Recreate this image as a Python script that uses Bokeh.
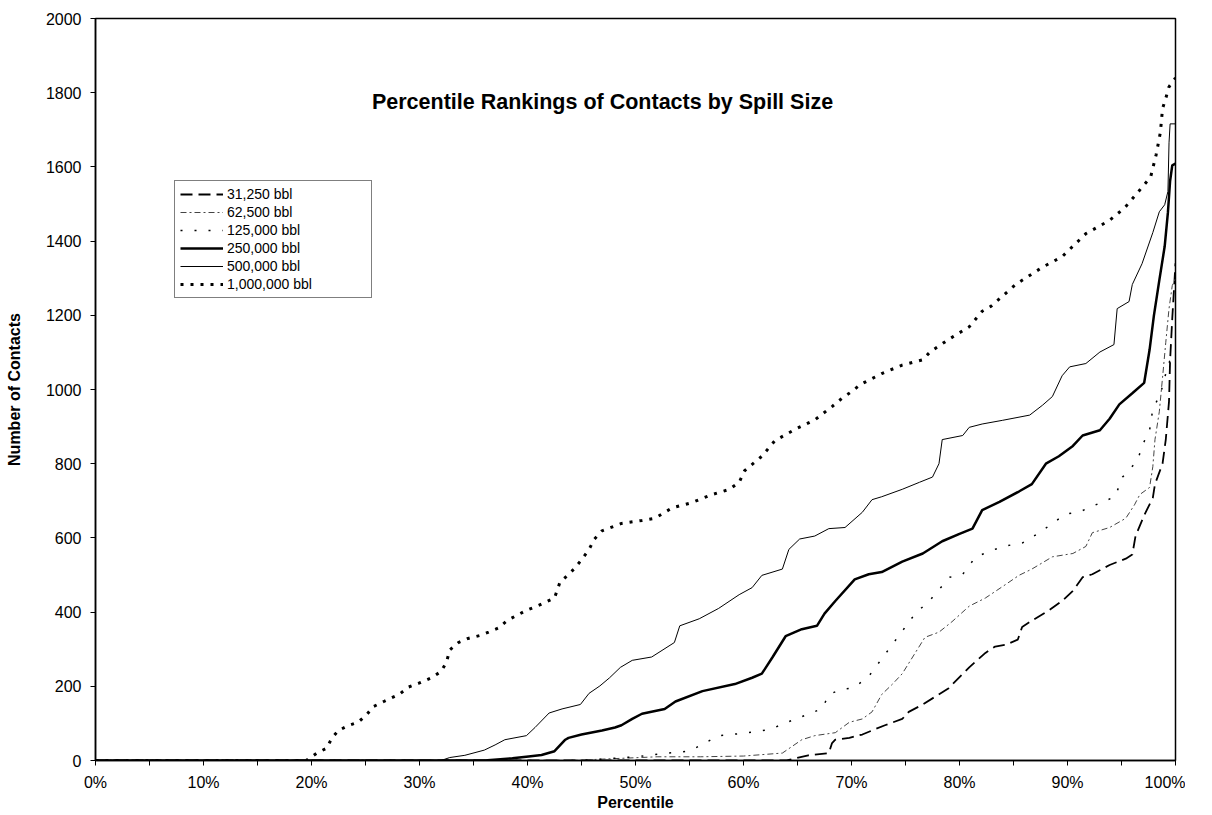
from bokeh.plotting import figure
from bokeh.models import FixedTicker, Legend, LegendItem, Label, Range1d
from bokeh.embed import file_html
from bokeh.resources import INLINE

# ---------------- data ----------------
series_names = ["31,250 bbl", "62,500 bbl", "125,000 bbl", "250,000 bbl", "500,000 bbl", "1,000,000 bbl"]

pct_31k = [0, 60, 64, 66, 67.9, 68.2, 68.5, 69.8, 71, 71.9, 73.1, 74.7, 75.3, 76.6, 77.8, 79, 80.9, 82.4,
           83.3, 84.3, 85.4, 85.8, 86.7, 88.3, 89.5, 90.5, 91.4, 92.3, 93.9, 95.4, 96, 96.3, 97.1, 97.9,
           98.1, 98.8, 99.1, 99.4, 99.5, 99.7, 100]
val_31k = [0, 0, 0, 14, 20, 47, 56, 61, 70, 81, 95, 112, 131, 151, 173, 195, 251, 290,
           307, 312, 326, 360, 377, 405, 430, 457, 494, 502, 527, 544, 555, 605, 661, 708,
           745, 800, 865, 968, 1079, 1191, 1340]

pct_62k = [0, 44, 48, 52, 56, 60, 63.6, 65.4, 66.6, 68.5, 69.8, 71, 71.9, 72.8, 73.8, 74.7, 75.9, 76.8,
           78.1, 79.3, 80.9, 82.4, 84.3, 85.5, 86.7, 88.6, 90.5, 91.7, 92.3, 93.9, 95.4, 96.2, 96.7,
           97.6, 97.9, 98.1, 98.5, 98.8, 99.1, 99.4, 99.7, 100]
val_62k = [0, 0, 5, 10, 10, 12, 20, 56, 67, 75, 103, 112, 131, 178, 206, 234, 290, 332,
           346, 374, 416, 438, 475, 499, 516, 549, 558, 577, 614, 628, 653, 689, 717,
           736, 792, 865, 940, 1032, 1127, 1218, 1280, 1300]

pct_125k = [0, 45, 50, 53, 55, 57.7, 59.9, 62.5, 63.6, 66.1, 67.3, 67.9, 69.1, 70.1, 71.5, 75.9, 77.2,
            79.1, 80.3, 81.5, 84, 85.8, 87.4, 88.6, 89.8, 91.1, 92.6, 94.4, 95.1, 96.5, 96.9, 97.6,
            97.9, 98.6, 99.1, 99.7, 100]
val_125k = [0, 0, 10, 20, 25, 67, 73, 84, 98, 126, 140, 178, 192, 195, 223, 396, 430,
            494, 502, 549, 577, 586, 614, 639, 664, 670, 689, 711, 764, 809, 848, 890,
            948, 987, 1043, 1099, 1100]

pct_250k = [0, 36, 38.6, 40.1, 41.3, 42.5, 43.5, 43.8, 45, 46.9, 48.1, 48.7, 49.7, 50.6, 52.7, 53.7,
            56.2, 59.2, 60.8, 61.7, 62.7, 63.9, 65.4, 66.8, 67.5, 68.5, 70.3, 71.6, 72.8, 74.7, 76.6,
            78.4, 80, 81.2, 82.1, 83.7, 85.5, 86.7, 88, 89.2, 90.5, 91.4, 93, 93.9, 94.8, 96, 97.1,
            97.6, 98, 98.5, 99, 99.3, 99.5, 99.7, 100]
val_250k = [0, 0, 6, 11, 15, 25, 56, 61, 70, 81, 89, 95, 112, 126, 139, 159,
            187, 206, 223, 234, 279, 335, 354, 363, 396, 430, 488, 502, 508, 536, 558,
            591, 611, 625, 675, 697, 725, 745, 800, 820, 848, 876, 890, 921, 960, 990, 1018,
            1107, 1199, 1294, 1386, 1478, 1562, 1604, 1609]

pct_500k = [0, 32, 32.8, 34.2, 36, 37, 37.9, 39.9, 40.7, 42, 43.2, 44.9, 45.7, 46.7, 47.6, 48.6, 49.7,
            51.5, 53.6, 54.1, 55.9, 57.7, 59.6, 60.8, 61.7, 63.6, 64.2, 65.2, 66.6, 67.9, 69.4, 71,
            71.9, 72.8, 74.7, 76.3, 77.5, 78.1, 78.4, 80.3, 80.9, 82.1, 84, 86.5, 87.7, 88.6, 89.5,
            90.2, 91.7, 93, 94.3, 94.6, 95.7, 96, 96.9, 97.9, 98.5, 99, 99.3, 99.4, 99.5, 100]
val_500k = [0, 0, 8, 14, 28, 42, 56, 67, 89, 128, 139, 151, 181, 201, 223, 251, 270,
            279, 318, 363, 382, 410, 447, 466, 499, 516, 569, 597, 605, 625, 628, 669,
            703, 711, 731, 750, 764, 800, 865, 876, 898, 907, 917, 931, 958, 981, 1037,
            1061, 1070, 1101, 1121, 1218, 1237, 1283, 1339, 1423, 1479, 1498, 1534, 1665, 1716, 1716]

pct_1m = [0, 19.5, 20.5, 21.4, 21.9, 22.5, 23.4, 24.3, 25.1, 25.7, 26.7, 28.1, 29, 30, 31.1, 32, 32.5,
          32.8, 33.6, 34.5, 35.6, 36.4, 37.3, 38.1, 39, 39.9, 40.9, 42.5, 43, 43.7, 44.3, 45, 45.7,
          46.2, 46.9, 48.7, 50.6, 51.8, 53.4, 55.2, 57.1, 58.7, 59.6, 60.1, 61.7, 62.9, 64.8, 66.6,
          68.2, 69.1, 70.1, 70.8, 72.8, 74.7, 76.6, 77.3, 79, 80.9, 82.1, 82.9, 85.2, 87.7, 89.5,
          91.7, 93.9, 95.3, 96.5, 97.7, 98.2, 98.6, 98.8, 99.1, 99.4, 100]
val_1m = [0, 0, 20, 33, 61, 81, 94, 103, 123, 145, 159, 178, 198, 209, 223, 240, 265,
          298, 318, 329, 337, 346, 357, 377, 391, 405, 416, 438, 480, 499, 516, 541, 569,
          597, 619, 639, 647, 653, 681, 695, 717, 731, 750, 781, 820, 862, 893, 918,
          954, 976, 996, 1013, 1043, 1066, 1080, 1102, 1135, 1169, 1211, 1224, 1283, 1330, 1358,
          1420, 1456, 1490, 1531, 1573, 1632, 1693, 1757, 1785, 1816, 1840]

x_ticks = [0, 10, 20, 30, 40, 50, 60, 70, 80, 90, 100]
x_tick_labels = ["0%", "10%", "20%", "30%", "40%", "50%", "60%", "70%", "80%", "90%", "100%"]
x_minor_ticks = [5, 15, 25, 35, 45, 55, 65, 75, 85, 95]
y_ticks = [0, 200, 400, 600, 800, 1000, 1200, 1400, 1600, 1800, 2000]

title_text = "Percentile Rankings of Contacts by Spill Size"
x_title = "Percentile"
y_title = "Number of Contacts"

FONT = "Liberation Sans"

p = figure(frame_width=1080, frame_height=742, output_backend="svg", toolbar_location=None,
           x_range=Range1d(0, 100), y_range=Range1d(0, 2000),
           min_border_left=95, min_border_top=18, min_border_bottom=44, min_border_right=10,
           background_fill_color="white", border_fill_color="white")

p.xgrid.visible = False
p.ygrid.visible = False
p.outline_line_color = "black"
p.outline_line_width = 1.5
p.outline_line_alpha = 1.0

# axes
p.xaxis.ticker = FixedTicker(ticks=x_ticks, minor_ticks=x_minor_ticks)
p.xaxis.major_label_overrides = {t: l for t, l in zip(x_ticks, x_tick_labels)}
p.yaxis.ticker = FixedTicker(ticks=y_ticks)
for ax in (p.xaxis[0], p.yaxis[0]):
    ax.axis_line_color = "black"
    ax.axis_line_width = 1.5
    ax.major_tick_line_color = "black"
    ax.major_tick_line_width = 1
    ax.major_tick_in = 0
    ax.major_tick_out = 5
    ax.minor_tick_line_color = "black"
    ax.minor_tick_in = 0
    ax.minor_tick_out = 5
    ax.major_label_text_font = FONT
    ax.major_label_text_font_size = "16px"
    ax.major_label_text_color = "black"
    ax.axis_label_text_font = FONT
    ax.axis_label_text_font_size = "16px"
    ax.axis_label_text_font_style = "bold"
    ax.axis_label_text_color = "black"
p.yaxis[0].minor_tick_out = 0
p.xaxis.axis_label = x_title
p.yaxis.axis_label = y_title
p.xaxis.major_label_standoff = 8
p.xaxis.axis_label_standoff = 0
p.yaxis.major_label_standoff = 9
p.yaxis.axis_label_standoff = 20

styles = [
    dict(line_color="black", line_width=1.8, line_dash="12 6"),
    dict(line_color="#444444", line_width=1.0, line_dash="6 3 2 3"),
    dict(line_color="black", line_width=1.5, line_dash="2 12"),
    dict(line_color="black", line_width=2.5),
    dict(line_color="black", line_width=1.0),
    dict(line_color="black", line_width=3.0, line_dash="3 7"),
]
data = [(pct_31k, val_31k), (pct_62k, val_62k), (pct_125k, val_125k),
        (pct_250k, val_250k), (pct_500k, val_500k), (pct_1m, val_1m)]

items = []
for name, (xs, ys), st in zip(series_names, data, styles):
    r = p.line(xs, ys, **st)
    items.append(LegendItem(label=name, renderers=[r]))

legend = Legend(items=items, location=(79, 462),
                label_text_font=FONT, label_text_font_size="14px", label_text_color="black",
                glyph_width=43, glyph_height=16, label_height=16, label_width=139,
                label_standoff=4, spacing=2, padding=5, margin=0,
                border_line_color="black", border_line_width=1,
                background_fill_color="white", background_fill_alpha=1.0)
p.add_layout(legend, "center")

title = Label(x=507, y=659, x_units="screen", y_units="screen", text=title_text,
              text_font=FONT, text_font_size="21.5px", text_font_style="bold",
              text_align="center", text_baseline="middle", text_color="black")
p.add_layout(title)

open("out.html", "w").write(file_html(p, INLINE))
